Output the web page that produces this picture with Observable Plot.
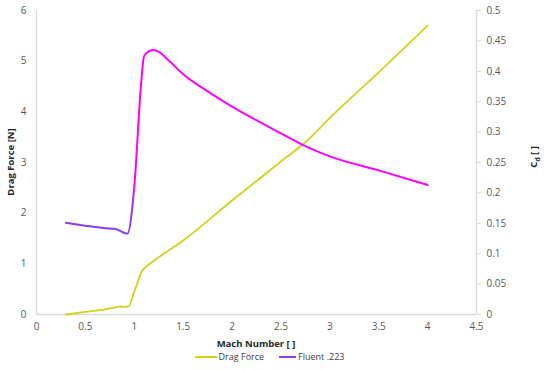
<!DOCTYPE html>
<html><head><meta charset="utf-8">
<script src="https://cdn.jsdelivr.net/npm/d3@7"></script>
<script src="https://cdn.jsdelivr.net/npm/@observablehq/plot@0.6"></script>
<style>
body{margin:0;background:#fff;font-family:"Open Sans",sans-serif;}
#legend{height:19px;display:flex;justify-content:center;align-items:center;font-size:9px;color:#404040;margin-left:-11px;margin-top:-3px}
.sw{display:inline-block;height:2px;margin-right:2px}
</style></head><body>
<div id="chart"></div>
<div id="legend"><span class="sw" style="background:#d2d21e;width:22px"></span><span style="margin-right:15px">Drag Force</span><span class="sw" style="background:#8a3cf0;width:17px"></span><span>Fluent .223</span></div>
<script>
const dragMach = [0.3, 0.5, 0.7, 0.8, 0.86, 0.9, 0.94, 1.0, 1.08, 1.12, 1.2, 1.5, 2.0, 2.5, 2.75, 3.0, 3.5, 4.0];
const dragForce = [0.0, 0.05, 0.1, 0.14, 0.16, 0.15, 0.16, 0.45, 0.86, 0.94, 1.06, 1.46, 2.25, 3.02, 3.4, 3.88, 4.78, 5.7];
const cdMach = [0.3, 0.5, 0.7, 0.8, 0.85, 0.9, 0.93, 1.0, 1.07, 1.1, 1.15, 1.2, 1.25, 1.35, 1.5, 1.75, 2.0, 2.5, 2.75, 3.0, 3.5, 4.0];
const cdValues = [0.151, 0.146, 0.142, 0.141, 0.138, 0.134, 0.133, 0.21, 0.38, 0.425, 0.433, 0.435, 0.432, 0.418, 0.395, 0.367, 0.342, 0.298, 0.277, 0.26, 0.237, 0.213];
const xTicks = [0, 0.5, 1, 1.5, 2, 2.5, 3, 3.5, 4, 4.5];
const yTicks = [0, 1, 2, 3, 4, 5, 6];
const cdTicks = [0, 0.05, 0.1, 0.15, 0.2, 0.25, 0.3, 0.35, 0.4, 0.45, 0.5];
const K = 12; // Cd 0.5 <-> 6 N

const drag = dragMach.map((m, i) => ({m, v: dragForce[i]}));
const cd = cdMach.map((m, i) => ({m, v: cdValues[i] * K}));

function gradDefs() {
  const ns = "http://www.w3.org/2000/svg";
  const defs = document.createElementNS(ns, "defs");
  const g = document.createElementNS(ns, "linearGradient");
  g.setAttribute("id", "fluentGrad");
  g.setAttribute("x1", "0"); g.setAttribute("y1", "0");
  g.setAttribute("x2", "0"); g.setAttribute("y2", "1");
  [["0", "#ff00ff"], ["0.72", "#ff00ff"], ["0.86", "#8a3cf0"], ["1", "#8a3cf0"]].forEach(([o, c]) => {
    const s = document.createElementNS(ns, "stop");
    s.setAttribute("offset", o); s.setAttribute("stop-color", c);
    g.appendChild(s);
  });
  defs.appendChild(g);
  return defs;
}

const plot = Plot.plot({
  width: 550, height: 350,
  marginLeft: 36, marginRight: 74, marginTop: 10, marginBottom: 36,
  style: {fontFamily: "Open Sans, sans-serif", fontSize: "10px", color: "#595959", background: "#fff"},
  x: {domain: [0, 4.5]},
  y: {domain: [0, 6]},
  marks: [
    gradDefs,
    Plot.ruleY([0], {stroke: "#d9d9d9", strokeWidth: 1.3}),
    Plot.ruleX([0, 4.5], {stroke: "#d9d9d9", strokeWidth: 1.3}),
    Plot.axisX({ticks: xTicks, tickSize: 0, tickPadding: 8, tickFormat: d => String(d), label: null, fill: "#595959"}),
    Plot.axisY({ticks: yTicks, tickSize: 0, tickPadding: 10, tickFormat: d => String(d), label: null, fill: "#595959"}),
    Plot.axisY({anchor: "right", ticks: cdTicks.map(v => v * K), tickSize: 4, tickPadding: 6, stroke: "#d9d9d9",
      tickFormat: d => String(+(d / K).toFixed(2)), label: null, fill: "#595959"}),
    Plot.line(drag, {x: "m", y: "v", stroke: "#d2d21e", strokeWidth: 1.8, curve: "monotone-x"}),
    Plot.line(cd, {x: "m", y: "v", stroke: "url(#fluentGrad)", strokeWidth: 2, curve: "monotone-x"})
  ]
});

const ns = "http://www.w3.org/2000/svg";
function addText(x, y, rot, parts) {
  const t = document.createElementNS(ns, "text");
  t.setAttribute("transform", `translate(${x},${y}) rotate(${rot})`);
  t.setAttribute("text-anchor", "middle");
  t.setAttribute("font-weight", "bold");
  t.setAttribute("font-size", "9.5");
  t.setAttribute("fill", "#262626");
  t.setAttribute("font-family", "Open Sans, sans-serif");
  parts.forEach(([s, sub, back]) => {
    const sp = document.createElementNS(ns, "tspan");
    sp.textContent = s;
    if (sub) { sp.setAttribute("font-size", "7"); sp.setAttribute("dy", "3"); }
    if (back) { sp.setAttribute("dy", "-3"); }
    t.appendChild(sp);
  });
  plot.appendChild(t);
}
addText(256, 347, 0, [["Mach Number [ ]"]]);
addText(14, 162, -90, [["Drag Force [N]"]]);
addText(537, 157, -90, [["C"], ["d", true], [" [ ]", false, true]]);
document.getElementById("chart").appendChild(plot);
</script>
</body></html>
